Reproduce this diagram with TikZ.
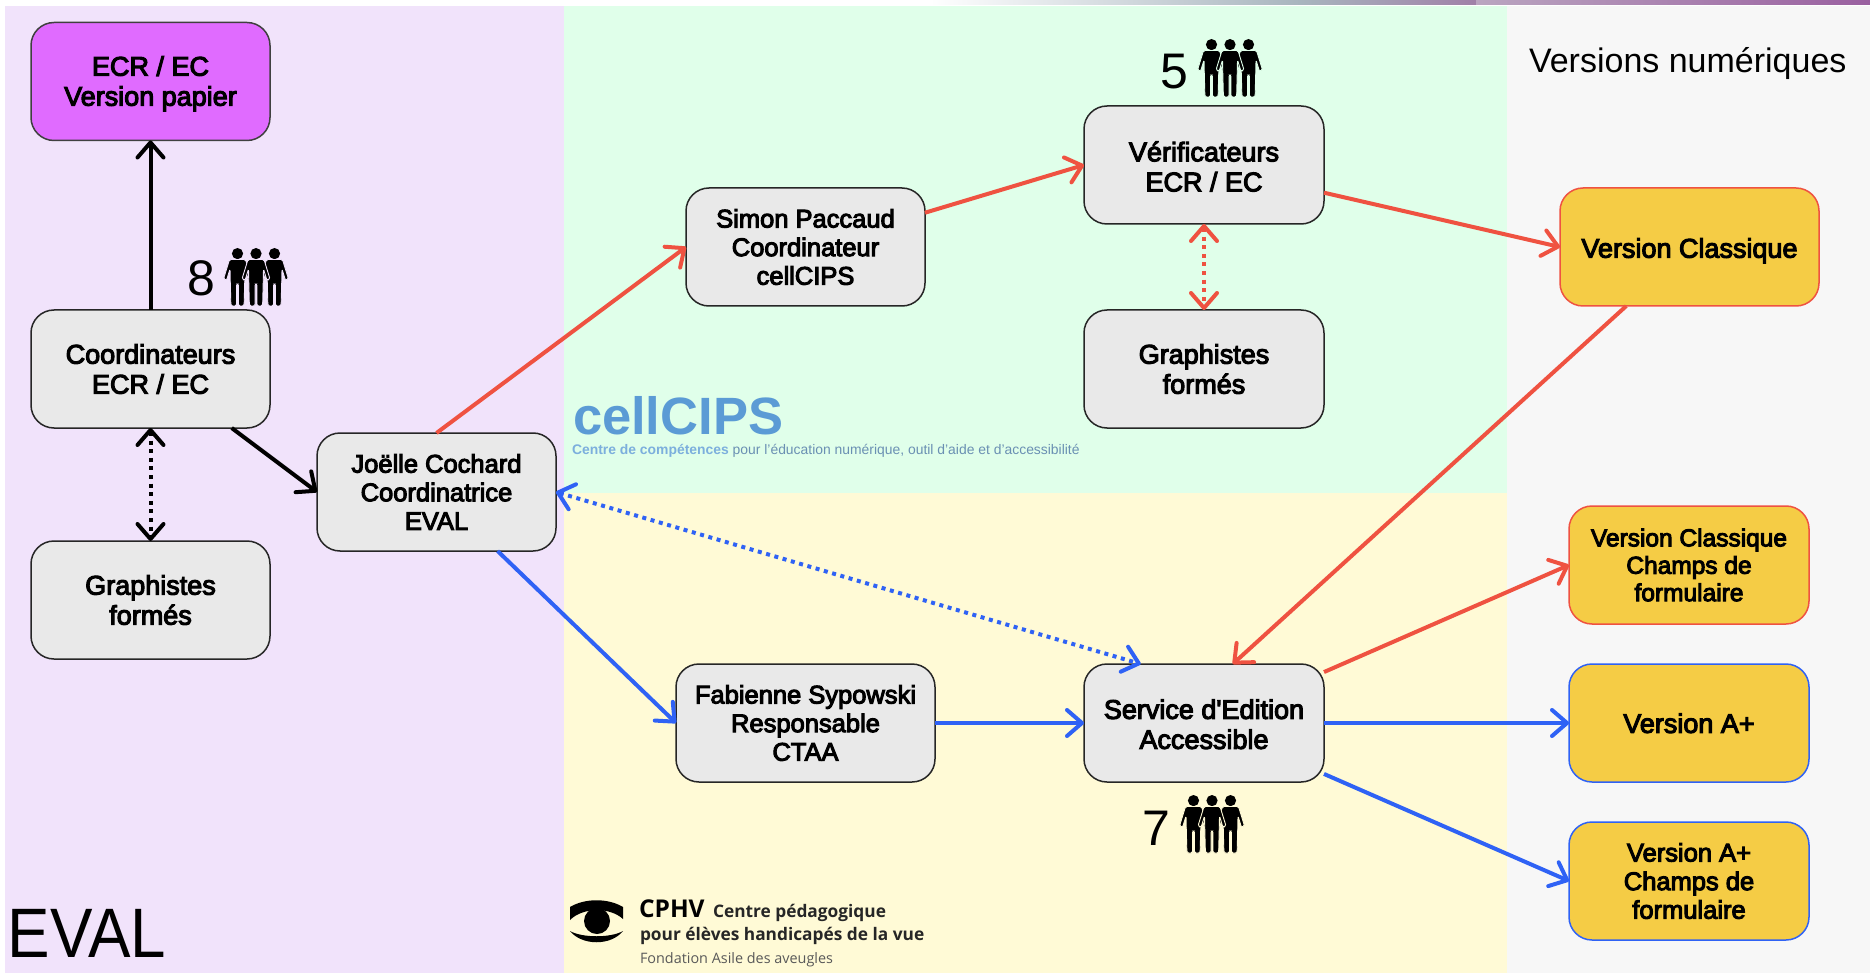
\documentclass[tikz,border=0pt]{standalone}
\usepackage{fontspec}
\setmainfont{Liberation Sans}
\newfontfamily\boxfont[FakeBold=4]{Liberation Sans}
\newfontfamily\lightfont{Liberation Sans}
\newfontfamily\cphvfont[BoldFont={Open Sans Bold}]{Open Sans}
\usetikzlibrary{arrows.meta,calc}
\definecolor{bgpurple}{HTML}{F1E3FB}
\definecolor{bggreen}{HTML}{E0FFEA}
\definecolor{bgyellow}{HTML}{FFFAD6}
\definecolor{bggray}{HTML}{F7F7F7}
\definecolor{boxgray}{HTML}{E9E9E9}
\definecolor{boxyellow}{HTML}{F5CC45}
\definecolor{boxpurple}{HTML}{E06BFF}
\definecolor{redline}{HTML}{EF5241}
\definecolor{blueline}{HTML}{2F62F5}
\definecolor{logoblue}{HTML}{5B9BD5}
\definecolor{stripa}{HTML}{A8B5BE}
\definecolor{stripb}{HTML}{A080A8}
\definecolor{stripc}{HTML}{BAA5C0}
\definecolor{stripd}{HTML}{9A60A0}
\newcommand{\lift}[1]{\rule{0pt}{#1pt}}
\tikzset{
  basebox/.style={rectangle,rounded corners=23pt,line width=1.5pt,inner sep=0pt,outer sep=0pt,align=center,text=black,
    minimum width=#1,minimum height=118pt},
  graybox/.style={basebox=#1,draw=black!85,fill=boxgray},
  purplebox/.style={basebox=#1,draw=black!75,fill=boxpurple},
  yellowred/.style={basebox=#1,draw=redline,fill=boxyellow},
  yellowblue/.style={basebox=#1,draw=blueline,fill=boxyellow},
  twol/.style={font=\boxfont\fontsize{27}{30}\selectfont},
  threel/.style={font=\boxfont\fontsize{25.5}{28.6}\selectfont},
  smalll/.style={font=\boxfont\fontsize{24.5}{27.4}\selectfont},
  barbtip/.tip={Straight Barb[length=15pt,width=26pt,line width=4pt,round]},
  arr/.style={line width=4pt,-barbtip},
  biarr/.style={line width=4pt,dash pattern=on 4pt off 4.6pt,barbtip-barbtip},
  count/.style={font=\lightfont\fontsize{50}{50}\selectfont,inner sep=0pt,anchor=base west},
  plain/.style={inner sep=0pt,outer sep=0pt,anchor=base west},
  personshape/.pic={
    \fill (0,5.6) circle (5.6);
    \path[fill,rounded corners=1.5pt,draw=#1,line width=0.9pt] (-8,11.5) -- (8,11.5) -- (14,31) -- (11,32.5) -- (7.5,21) -- (7.2,35) -- (6.6,58) -- (1,58) -- (1,36) -- (-1,36) -- (-1,58) -- (-6.6,58) -- (-7.2,35) -- (-7.5,21) -- (-11,32.5) -- (-14,31) -- cycle;
  }
}
\newcommand{\peopleicon}[3]{%
  \pic at (#1+13.5,#2) {personshape=#3};
  \pic at (#1+50.5,#2) {personshape=#3};
  \pic at (#1+32,#2) {personshape=#3};
}
\begin{document}
\begin{tikzpicture}[x=1pt,y=-1pt]
\useasboundingbox (0,0) rectangle (1870,973);
% backgrounds
\fill[white] (0,0) rectangle (1870,973);
\fill[bgpurple] (5,6) rectangle (564,973);
\fill[bggreen] (564,6) rectangle (1507,493);
\fill[bgyellow] (564,493) rectangle (1507,973);
\fill[bggray] (1507,6) rectangle (1870,973);
% top strip
\shade[left color=white,right color=stripa] (930,0) rectangle (1300,5);
\shade[left color=stripa,right color=stripb] (1300,0) rectangle (1476,5);
\shade[left color=stripc,right color=stripd] (1476,0) rectangle (1870,5);
% boxes
\node[purplebox=239pt,twol] (ecr) at (150.5,81.5) {\lift{24}ECR / EC\\Version papier};
\node[graybox=239pt,twol] (coord) at (150.5,369) {Coordinateurs\\ECR / EC};
\node[graybox=239pt,twol] (graphA) at (150.5,600) {Graphistes\\formés};
\node[graybox=239pt,threel] (joelle) at (436.5,492) {Joëlle Cochard\\Coordinatrice\\EVAL};
\node[graybox=239pt,threel] (simon) at (805.5,247) {Simon Paccaud\\Coordinateur\\cellCIPS};
\node[graybox=240pt,twol] (verif) at (1204,165) {\lift{23}Vérificateurs\\ECR / EC};
\node[graybox=240pt,twol] (graphB) at (1204,369) {Graphistes\\formés};
\node[yellowred=259pt,twol] (classique) at (1689.5,247) {\lift{27}Version Classique};
\node[yellowred=240pt,smalll] (vcchamps) at (1689,565) {Version Classique\\Champs de\\formulaire};
\node[graybox=259pt,threel] (fabienne) at (805.5,723) {Fabienne Sypowski\\Responsable\\CTAA};
\node[graybox=240pt,twol] (service) at (1204,723) {\lift{22}Service d'Edition\\Accessible};
\node[yellowblue=240pt,twol] (aplus) at (1689,723) {\lift{20}Version A+};
\node[yellowblue=240pt,threel] (apluschamps) at (1689,881) {Version A+\\Champs de\\formulaire};
% connectors
\draw[arr] (coord.north) -- (ecr.south);
\draw[arr] (coord.-36.6) -- (joelle.west);
\draw[biarr] (coord.south) -- (graphA.north);
\draw[arr,redline] (joelle.north) -- (simon.west);
\draw[arr,redline] (simon.16.3) -- (verif.west);
\draw[arr,redline] (verif.-13.1) -- (classique.west);
\draw[biarr,redline] (verif.south) -- (graphB.north);
\draw[arr,redline] (classique.-137.8) -- (service.64.6);
\draw[arr,redline] (service.23.3) -- (vcchamps.west);
\draw[biarr,blueline] (joelle.east) -- (service.137.8);
\draw[arr,blueline] (joelle.-44.3) -- (fabienne.west);
\draw[arr,blueline] (fabienne.east) -- (service.west);
\draw[arr,blueline] (service.east) -- (aplus.west);
\draw[arr,blueline] (service.-23.3) -- (apluschamps.west);
% counts
\node[count] (n8) at (187,296) {8};
\peopleicon{224}{248}{bgpurple}
\node[count] (n5) at (1160,89) {5};
\peopleicon{1198}{39}{bggreen}
\node[count] (n7) at (1142,845) {7};
\peopleicon{1180}{795}{bgyellow}
% titles
\node[plain,font=\lightfont\fontsize{34}{34}\selectfont] (vn) at (1529,73) {Versions numériques};
\node[plain,font=\lightfont\fontsize{70}{70}\selectfont,xscale=0.91] (eval) at (8,957) {EVAL};
% cellCIPS logo
\node[plain,font=\bfseries\fontsize{52.5}{52}\selectfont,text=logoblue] (cell) at (573,434) {cellCIPS};
\node[plain,font=\fontsize{13.9}{15}\selectfont,text=logoblue!80] (cellsub) at (572,454) {\textbf{Centre de compétences} {\color{logoblue!60!gray}pour l'éducation numérique, outil d'aide et d'accessibilité}};
% CPHV logo
\fill (570,920) -- (570,907) .. controls (585,898) and (608,898) .. (623,907) -- (623,919) .. controls (610,907) and (583,907) .. (570,920) -- cycle;
\fill (597,921) circle (13);
\fill (570,931) .. controls (582,946) and (611,946) .. (623,931) .. controls (611,938) and (582,938) .. (570,931) -- cycle;
\node[plain,font=\cphvfont\bfseries\fontsize{24.5}{25}\selectfont] (cphv) at (639,917) {CPHV};
\node[plain,font=\cphvfont\bfseries\fontsize{17.3}{18}\selectfont,text=black!85] (cphvA) at (713,917) {Centre pédagogique};
\node[plain,font=\cphvfont\bfseries\fontsize{17.3}{18}\selectfont,text=black!85] (cphvB) at (640,940) {pour élèves handicapés de la vue};
\node[plain,font=\cphvfont\fontsize{14.4}{15}\selectfont,text=black!65] (cphvC) at (640,963) {Fondation Asile des aveugles};
\end{tikzpicture}
\end{document}
